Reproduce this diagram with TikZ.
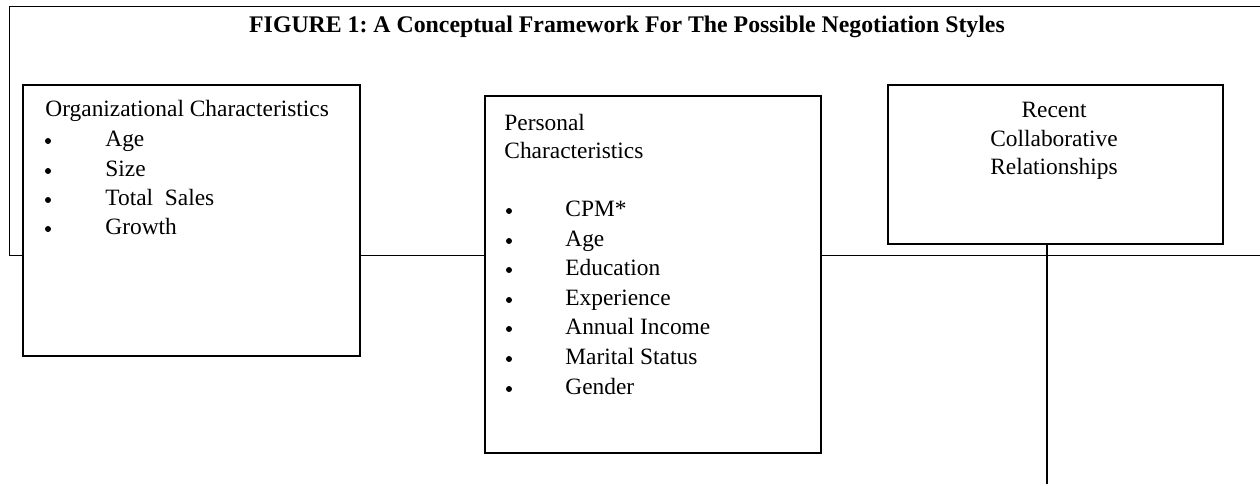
\documentclass[tikz,border=0pt]{standalone}
\usepackage{fontspec}
\setmainfont{Liberation Serif}
\frenchspacing

\begin{document}
\begin{tikzpicture}[
        x=0.5pt, y=-0.5pt,
        boxnode/.style={rectangle, draw=black, fill=white, line width=0.85pt, inner sep=0pt, anchor=north west},
        txtnode/.style={inner sep=0pt, anchor=base west, font=\fontsize{11.7}{14}\selectfont},
        ctrnode/.style={inner sep=0pt, anchor=base, font=\fontsize{11.7}{14}\selectfont},
        dotnode/.style={circle, fill=black, inner sep=0pt, minimum size=3pt},
        ]
                \useasboundingbox (0,0) rectangle (1260,486);

                \draw[black, line width=0.5pt] (1260,7) -- (9,7) -- (9,256) -- (1260,256);

                \node[inner sep=0pt, anchor=base, font=\fontsize{11.9}{14}\selectfont\bfseries] at (627,33) (title)
                    {FIGURE 1: A Conceptual Framework For The Possible Negotiation Styles};

                \node[boxnode, minimum width=168.5pt, minimum height=135.5pt] at (22,84) (org) {};
                \node[boxnode, minimum width=168pt, minimum height=178.5pt] at (484,95) (pers) {};
                \node[boxnode, minimum width=167.5pt, minimum height=79.5pt] at (887,84) (rel) {};

                \node[txtnode] at (45,117) (orghead) {Organizational Characteristics};
                \node[dotnode] at (48,141) (o1) {};
                \node[dotnode] at (48,171) (o2) {};
                \node[dotnode] at (48,200) (o3) {};
                \node[dotnode] at (48,229) (o4) {};
                \node[txtnode] at (105,147) (oage) {Age};
                \node[txtnode] at (105,177) (osize) {Size};
                \node[txtnode] at (105,206) (osales) {Total\ \ Sales};
                \node[txtnode] at (105,235) (ogrowth) {Growth};

                \node[txtnode] at (504,131) (pershead1) {Personal};
                \node[txtnode] at (504,159) (pershead2) {Characteristics};
                \node[dotnode] at (509,211) (p1) {};
                \node[dotnode] at (509,241) (p2) {};
                \node[dotnode] at (509,270) (p3) {};
                \node[dotnode] at (509,300) (p4) {};
                \node[dotnode] at (509,329) (p5) {};
                \node[dotnode] at (509,359) (p6) {};
                \node[dotnode] at (509,389) (p7) {};
                \node[txtnode] at (565,217) (pcpm) {CPM*};
                \node[txtnode] at (565,247) (page) {Age};
                \node[txtnode] at (565,276) (pedu) {Education};
                \node[txtnode] at (565,306) (pexp) {Experience};
                \node[txtnode] at (565,335) (pinc) {Annual Income};
                \node[txtnode] at (565,365) (pmar) {Marital Status};
                \node[txtnode] at (565,395) (pgen) {Gender};

                \node[ctrnode] at (1054,118) (relhead1) {Recent};
                \node[ctrnode] at (1054,147) (relhead2) {Collaborative};
                \node[ctrnode] at (1054,175) (relhead3) {Relationships};

                \coordinate (relend) at (1047,484);
                \draw[black, line width=1pt] (relend |- rel.south) -- (relend);

            \end{tikzpicture}
\end{document}
